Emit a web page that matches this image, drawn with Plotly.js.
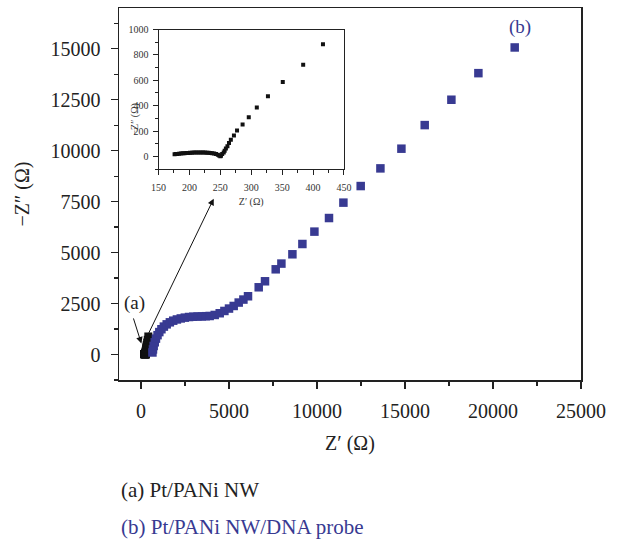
<!DOCTYPE html>
<html>
<head>
<meta charset="utf-8">
<script src="https://cdn.plot.ly/plotly-3.0.1.min.js"></script>
<style>html,body{margin:0;padding:0;background:#fff;}#chart{width:617px;height:539px;}</style>
</head>
<body>
<div id="chart"></div>
<script>
// Series (a) Pt/PANi NW : Z' (Ω), -Z'' (Ω)
const aZre = [176, 178, 180, 183, 186, 189, 192, 195, 198, 201, 204, 207, 210, 213, 216, 219, 222, 225, 228, 231, 234, 237, 240, 243, 246, 248, 250, 251, 253, 255.5, 257, 259, 261.5, 264, 267, 272, 277, 286, 296, 309, 327, 351, 384, 416];
const aZim = [16, 18, 19, 21, 22, 24, 25, 26, 27, 28, 29, 30, 30, 31, 31, 31, 31, 30, 29, 28, 27, 25, 22, 19, 13, 8, 2, 5, 18, 31, 45, 63, 81, 105, 131, 165, 204, 251, 309, 385, 474, 586, 722, 885];

// Series (b) Pt/PANi NW/DNA probe
const bZre = [650, 680, 720, 780, 850, 940, 1040, 1160, 1300, 1460, 1640, 1830, 2040, 2260, 2490, 2730, 2970, 3210, 3450, 3680, 3903, 4188, 4472, 4739, 5000, 5267, 5551, 5818, 6080, 6688, 7046, 7654, 7977, 8602, 9170, 9853, 10682, 11500, 12483, 13603, 14796, 16120, 17636, 19170, 21233];
const bZim = [100, 250, 420, 600, 780, 950, 1100, 1240, 1370, 1480, 1580, 1660, 1720, 1770, 1810, 1840, 1855, 1865, 1870, 1880, 1890, 1941, 2025, 2137, 2255, 2382, 2549, 2696, 2858, 3299, 3593, 4181, 4461, 4917, 5422, 6029, 6696, 7451, 8265, 9132, 10098, 11255, 12500, 13804, 15064];

const mainXTicks = [0, 5000, 10000, 15000, 20000, 25000];
const mainXLabels = ['0', '5000', '10000', '15000', '20000', '25000'];
const mainYTicks = [0, 2500, 5000, 7500, 10000, 12500, 15000];
const mainYLabels = ['0', '2500', '5000', '7500', '10000', '12500', '15000'];
const insetXTicks = [150, 200, 250, 300, 350, 400, 450];
const insetYTicks = [0, 200, 400, 600, 800, 1000];

const BLUE = '#383a92';
const FONT = 'Liberation Serif, Times New Roman, serif';

const traces = [
  {x: aZre, y: aZim, type: 'scatter', mode: 'markers', name: '(a) Pt/PANi NW',
   marker: {symbol: 'square', size: 8, color: '#111'}, xaxis: 'x', yaxis: 'y', showlegend: false},
  {x: bZre, y: bZim, type: 'scatter', mode: 'markers', name: '(b) Pt/PANi NW/DNA probe',
   marker: {symbol: 'square', size: 8.5, color: BLUE}, xaxis: 'x', yaxis: 'y', showlegend: false},
  {x: aZre, y: aZim, type: 'scatter', mode: 'markers', name: 'inset (a)',
   marker: {symbol: 'square', size: 4, color: '#111'}, xaxis: 'x2', yaxis: 'y2', showlegend: false}
];

const axisCommon = {
  showgrid: false, zeroline: false, showline: true, mirror: true,
  linecolor: '#222', ticks: 'outside', tickcolor: '#222'
};

const layout = {
  width: 617, height: 539,
  margin: {l: 119, r: 36, t: 8, b: 159},
  paper_bgcolor: '#fff', plot_bgcolor: '#fff',
  font: {family: FONT, color: '#222'},
  showlegend: false,
  xaxis: Object.assign({}, axisCommon, {
    range: [-1250, 25000], tickvals: mainXTicks, ticktext: mainXLabels, ticklen: 7, linewidth: 1.5, tickwidth: 1.3,
    minor: {dtick: 2500, tick0: 0, ticks: 'outside', ticklen: 4, tickcolor: '#222'},
    tickfont: {size: 20, family: FONT, color: '#222'}, ticklabelstandoff: 5,
    title: {text: 'Z′ (Ω)', font: {size: 20, family: FONT, color: '#222'}, standoff: 15}
  }),
  yaxis: Object.assign({}, axisCommon, {
    range: [-1250, 17000], tickvals: mainYTicks, ticktext: mainYLabels, ticklen: 7, linewidth: 1.5, tickwidth: 1.3,
    minor: {dtick: 1250, tick0: 0, ticks: 'outside', ticklen: 4, tickcolor: '#222'},
    tickfont: {size: 20, family: FONT, color: '#222'}, ticklabelstandoff: 6,
    title: {text: '−Z″ (Ω)', font: {size: 20, family: FONT, color: '#222'}, standoff: 15}
  }),
  xaxis2: Object.assign({}, axisCommon, {
    domain: [0.0855, 0.487], anchor: 'y2',
    range: [150, 450], tickvals: insetXTicks, ticklen: 5, linewidth: 1, tickwidth: 1,
    minor: {dtick: 25, tick0: 150, ticks: 'outside', ticklen: 3, tickcolor: '#222'},
    tickfont: {size: 10, family: FONT, color: '#333'}, ticklabelstandoff: 4,
    title: {text: 'Z′ (Ω)', font: {size: 10, family: FONT, color: '#333'}, standoff: 5}
  }),
  yaxis2: Object.assign({}, axisCommon, {
    domain: [0.567, 0.942], anchor: 'x2',
    range: [-100, 1000], tickvals: insetYTicks, ticklen: 5, linewidth: 1, tickwidth: 1,
    minor: {dtick: 100, tick0: 0, ticks: 'outside', ticklen: 3, tickcolor: '#222'},
    tickfont: {size: 10, family: FONT, color: '#333'}, ticklabelstandoff: 2
  }),
  annotations: [
    {xref: 'paper', yref: 'paper', x: 0.017, y: 0.752, text: '−Z″ (Ω)', textangle: -90, showarrow: false,
     font: {size: 10, family: FONT, color: '#333'}},
    {xref: 'x', yref: 'y', x: 4131, y: 7647, axref: 'x', ayref: 'y', ax: 381, ay: 946,
     text: '', showarrow: true, arrowhead: 2, arrowsize: 1.3, arrowwidth: 1, arrowcolor: '#111', standoff: 0},
    {xref: 'x', yref: 'y', x: 23, y: 539, axref: 'x', ayref: 'y', ax: -455, ay: 1843,
     text: '', showarrow: true, arrowhead: 2, arrowsize: 1.3, arrowwidth: 1, arrowcolor: '#111', standoff: 0},
    {xref: 'x', yref: 'y', x: -398, y: 2530, text: '(a)', showarrow: false,
     font: {size: 19, family: FONT, color: '#222'}},
    {xref: 'x', yref: 'y', x: 21518, y: 16080, text: '(b)', showarrow: false,
     font: {size: 19, family: FONT, color: BLUE}},
    {xref: 'paper', yref: 'paper', x: 0.0, y: -0.2957, xanchor: 'left', yanchor: 'middle',
     text: '(a) Pt/PANi NW', showarrow: false, font: {size: 21, family: FONT, color: '#222'}},
    {xref: 'paper', yref: 'paper', x: 0.0, y: -0.395, xanchor: 'left', yanchor: 'middle',
     text: '(b) Pt/PANi NW/DNA probe', showarrow: false, font: {size: 21, family: FONT, color: BLUE}}
  ]
};

Plotly.newPlot('chart', traces, layout, {displayModeBar: false, staticPlot: true});
</script>
</body>
</html>
